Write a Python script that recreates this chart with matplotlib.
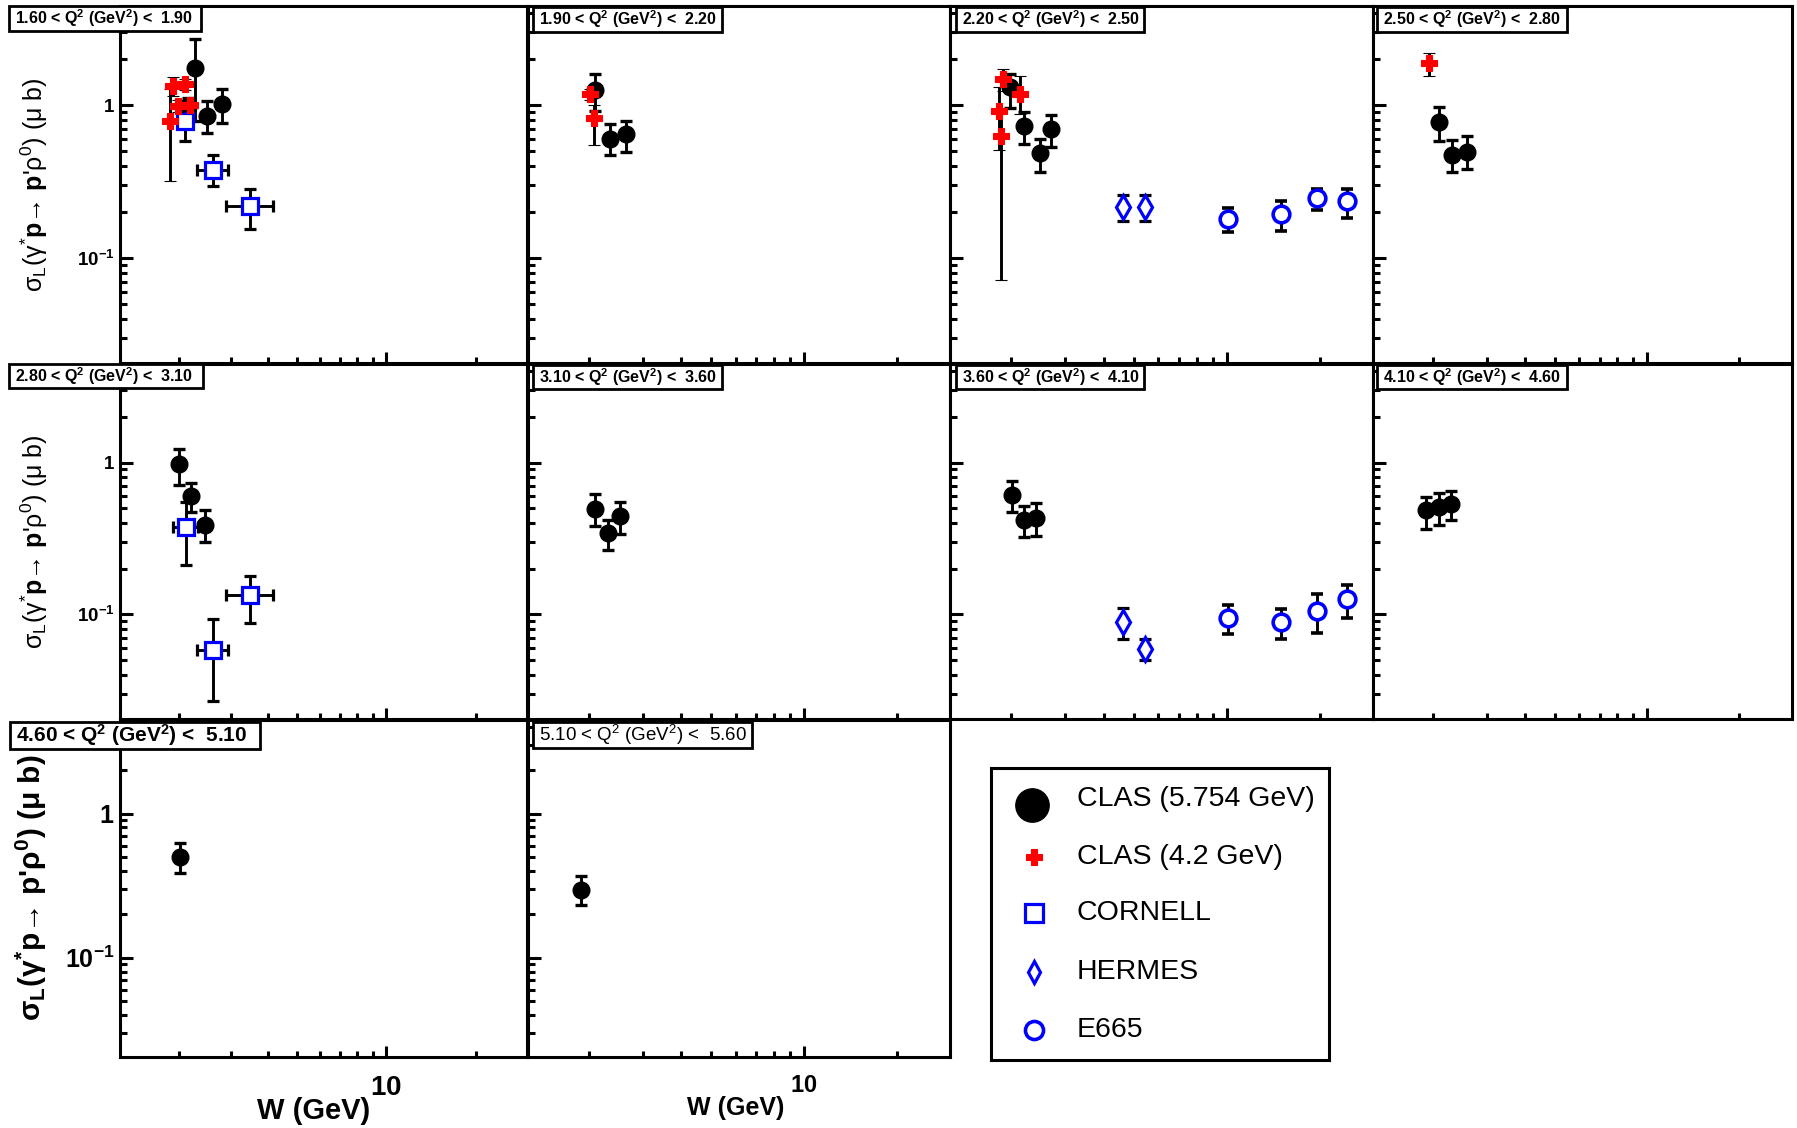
import numpy as np
import matplotlib
matplotlib.use("Agg")
import matplotlib.pyplot as plt
from matplotlib.ticker import FixedLocator, FuncFormatter, NullFormatter
from matplotlib.patches import Rectangle

plt.rcParams.update({
    "font.family": ["Liberation Sans", "DejaVu Sans"],
    "mathtext.fontset": "custom",
    "mathtext.rm": "Liberation Sans",
    "mathtext.it": "Liberation Sans",
    "mathtext.bf": "Liberation Sans:bold",
    "mathtext.default": "regular",
})

# ---------------------------------------------------------------- data
# Q^2 bins (GeV^2), one panel per bin
q2_low = ["1.60", "1.90", "2.20", "2.50", "2.80", "3.10", "3.60", "4.10", "4.60", "5.10"]
q2_high = ["1.90", "2.20", "2.50", "2.80", "3.10", "3.60", "4.10", "4.60", "5.10", "5.60"]

# CLAS, 5.754 GeV beam
clas57_bin = [0, 0, 0, 0, 1, 1, 1, 2, 2, 2, 2, 3, 3, 3, 4, 4, 4, 5, 5, 5, 6, 6, 6, 7, 7, 7, 8, 9]
clas57_w = [2.27, 2.15, 2.49, 2.79, 2.09, 2.34, 2.65, 1.99, 2.21, 2.48, 2.70, 2.09, 2.31, 2.58,
            2.00, 2.21, 2.45, 2.09, 2.31, 2.52, 2.01, 2.21, 2.41, 1.90, 2.09, 2.28, 2.02, 1.89]
clas57_sig = [1.74, 0.965, 0.85, 1.01, 1.26, 0.60, 0.645, 1.32, 0.727, 0.487, 0.695, 0.776, 0.473, 0.49,
              0.975, 0.604, 0.39, 0.498, 0.343, 0.445, 0.61, 0.416, 0.434, 0.485, 0.51, 0.537, 0.497, 0.296]
clas57_elo = [0.95, 0.12, 0.19, 0.25, 0.34, 0.13, 0.155, 0.36, 0.17, 0.12, 0.165, 0.19, 0.106, 0.108,
              0.265, 0.13, 0.09, 0.116, 0.077, 0.105, 0.137, 0.093, 0.107, 0.118, 0.124, 0.121, 0.111, 0.064]
clas57_ehi = [0.95, 0.14, 0.22, 0.26, 0.34, 0.15, 0.145, 0.27, 0.17, 0.11, 0.165, 0.20, 0.115, 0.135,
              0.255, 0.133, 0.095, 0.118, 0.077, 0.106, 0.146, 0.102, 0.108, 0.11, 0.122, 0.115, 0.129, 0.075]

# CLAS, 4.2 GeV beam
clas42_bin = [0, 0, 0, 0, 0, 1, 1, 2, 2, 2, 2, 3]
clas42_w = [1.87, 1.92, 2.11, 1.99, 2.18, 2.02, 2.08, 1.89, 2.14, 1.83, 1.86, 1.93]
clas42_sig = [0.79, 1.33, 1.37, 0.99, 1.00, 1.18, 0.82, 1.48, 1.18, 0.91, 0.625, 1.88]
clas42_elo = [0.47, 0.18, 0.12, 0.09, 0.09, 0.10, 0.27, 0.25, 0.30, 0.405, 0.553, 0.33]
clas42_ehi = [0.48, 0.19, 0.12, 0.09, 0.09, 0.10, 0.18, 0.25, 0.36, 0.41, 0.30, 0.31]

# Cornell
cornell_bin = [0, 0, 0, 4, 4, 4]
cornell_w = [2.11, 2.62, 3.49, 2.12, 2.62, 3.49]
cornell_wlo = [0.0, 0.32, 0.59, 0.21, 0.31, 0.59]
cornell_whi = [0.0, 0.32, 0.68, 0.21, 0.32, 0.68]
cornell_sig = [0.79, 0.376, 0.22, 0.376, 0.0585, 0.134]
cornell_elo = [0.21, 0.08, 0.066, 0.165, 0.0314, 0.046]
cornell_ehi = [0.13, 0.096, 0.064, 0.174, 0.0345, 0.045]

# HERMES
hermes_bin = [2, 2, 6, 6]
hermes_w = [4.62, 5.42, 4.62, 5.42]
hermes_sig = [0.214, 0.214, 0.0892, 0.0589]
hermes_elo = [0.04, 0.04, 0.0204, 0.009]
hermes_ehi = [0.043, 0.043, 0.0208, 0.0097]

# E665
e665_bin = [2, 2, 2, 2, 6, 6, 6, 6]
e665_w = [10.1, 15.0, 19.6, 24.6, 10.1, 15.0, 19.6, 24.6]
e665_sig = [0.179, 0.193, 0.245, 0.235, 0.0941, 0.0892, 0.105, 0.126]
e665_elo = [0.031, 0.042, 0.040, 0.053, 0.020, 0.0204, 0.0295, 0.031]
e665_ehi = [0.032, 0.041, 0.038, 0.048, 0.021, 0.0198, 0.031, 0.031]

legend_labels = ["CLAS (5.754 GeV)", "CLAS (4.2 GeV)", "CORNELL", "HERMES", "E665"]

# ---------------------------------------------------------------- layout
W_PX, H_PX = 1797, 1128
fig = plt.figure(figsize=(W_PX / 100, H_PX / 100), dpi=100)


def frac_rect(x0, y0, x1, y1):
    return [x0 / W_PX, 1 - y1 / H_PX, (x1 - x0) / W_PX, (y1 - y0) / H_PX]


def fx(x):
    return x / W_PX


def fy(y):
    return 1 - y / H_PX


frames = [(120, 6, 527, 363), (528, 6, 950, 363), (950, 6, 1373, 363), (1373, 6, 1792, 363),
          (120, 364, 527, 719), (528, 364, 950, 719), (950, 364, 1373, 719), (1373, 364, 1792, 719),
          (120, 720, 527, 1057), (528, 720, 950, 1057)]

boxes = [(9, 6, 201, 31), (533, 7, 722, 32), (956, 7, 1144, 32), (1377, 7, 1567, 32),
         (9, 364, 203, 388), (533, 365, 722, 389), (956, 365, 1144, 389), (1377, 365, 1567, 389),
         (10, 722, 260, 749), (533, 722, 752, 748)]

ERR = dict(ecolor="black", elinewidth=2.1, capsize=4.3, capthick=2.4, linestyle="none")


def sel(bins, i, *cols):
    m = np.asarray(bins) == i
    return [np.asarray(c)[m] for c in cols]


def ytick_fmt(v, _):
    if abs(v - 1) < 1e-9:
        return r"$\mathbf{1}$"
    return r"$\mathbf{10^{-1}}$"


axes = []
for i, fr in enumerate(frames):
    ax = fig.add_axes(frac_rect(*fr))
    axes.append(ax)
    ax.set_xscale("log")
    ax.set_yscale("log")

    # CLAS 5.754 GeV
    w, s, lo, hi = sel(clas57_bin, i, clas57_w, clas57_sig, clas57_elo, clas57_ehi)
    if len(w):
        ax.errorbar(w, s, yerr=[lo, hi], marker="o", ms=12, mfc="black", mec="black",
                    zorder=3, **ERR)
    # Cornell
    w, wl, wh, s, lo, hi = sel(cornell_bin, i, cornell_w, cornell_wlo, cornell_whi,
                               cornell_sig, cornell_elo, cornell_ehi)
    if len(w):
        ax.errorbar(w, s, xerr=[wl, wh], yerr=[lo, hi], marker="s", ms=12, mfc="white",
                    mec="#0000ff", mew=2.3, zorder=4, **ERR)
    # HERMES
    w, s, lo, hi = sel(hermes_bin, i, hermes_w, hermes_sig, hermes_elo, hermes_ehi)
    if len(w):
        ax.errorbar(w, s, yerr=[lo, hi], marker="d", ms=12, mfc="white",
                    mec="#0000ff", mew=2.3, zorder=4, **ERR)
    # E665
    w, s, lo, hi = sel(e665_bin, i, e665_w, e665_sig, e665_elo, e665_ehi)
    if len(w):
        ax.errorbar(w, s, yerr=[lo, hi], marker="o", ms=12, mfc="white",
                    mec="#0000ff", mew=2.6, zorder=4, **ERR)
    # CLAS 4.2 GeV
    w, s, lo, hi = sel(clas42_bin, i, clas42_w, clas42_sig, clas42_elo, clas42_ehi)
    if len(w):
        ax.errorbar(w, s, yerr=[lo, hi], marker="P", ms=11.5, mfc="#ff0000", mec="#ff0000",
                    mew=0.8, zorder=5, **ERR)

    ax.set_xlim(1.27, 29.8)
    ax.set_ylim(0.0205, 4.45)
    ax.xaxis.set_major_locator(FixedLocator([10]))
    ax.xaxis.set_minor_locator(FixedLocator([2, 3, 4, 5, 6, 7, 8, 9, 20]))
    ax.yaxis.set_major_locator(FixedLocator([0.1, 1]))
    ax.yaxis.set_minor_locator(FixedLocator([0.03, 0.04, 0.05, 0.06, 0.07, 0.08, 0.09,
                                             0.2, 0.3, 0.4, 0.5, 0.6, 0.7, 0.8, 0.9, 2, 3, 4]))
    ax.xaxis.set_minor_formatter(NullFormatter())
    ax.yaxis.set_minor_formatter(NullFormatter())
    ax.xaxis.set_major_formatter(FuncFormatter(lambda v, _: r"$\mathbf{10}$"))
    ax.yaxis.set_major_formatter(FuncFormatter(ytick_fmt))
    ax.tick_params(which="both", direction="in", top=False, right=False, width=2.2)
    ax.tick_params(axis="y", which="major", length=9.5)
    ax.tick_params(axis="y", which="minor", length=5)
    ax.tick_params(axis="x", which="major", length=8)
    ax.tick_params(axis="x", which="minor", length=4)
    for sp in ax.spines.values():
        sp.set_linewidth(2.2)

    col0 = i in (0, 4, 8)
    bottom = i in (8, 9)
    ax.tick_params(axis="y", labelleft=col0, pad=4, labelsize=18 if i == 8 else 13.5)
    ax.tick_params(axis="x", labelbottom=bottom, pad=13, labelsize=20 if i == 8 else 17)

# Q^2 bin boxes
for i, (x0, y0, x1, y1) in enumerate(boxes):
    fig.add_artist(Rectangle((fx(x0), fy(y1)), (x1 - x0) / W_PX, (y1 - y0) / H_PX,
                             transform=fig.transFigure, fc="white", ec="black", lw=2.0, zorder=5))
    txt = q2_low[i] + r" < Q$^{2}$ (GeV$^{2}$) <  " + q2_high[i]
    size = 15 if i == 8 else (13.5 if i == 9 else 11.5)
    weight = "normal" if i == 9 else "bold"
    fig.text(fx(x0 + 6), fy((y0 + y1) / 2), txt, ha="left", va="center",
             fontsize=size, fontweight=weight, zorder=6)

# y-axis titles
ylab_small = r"σ$_{L}$(γ$^{*}$$\mathbf{p}$→ $\mathbf{p}$'ρ$^{0}$) (μ b)"
ylab_big = r"σ$_{L}$(γ$^{*}$p→ p'ρ$^{0}$) (μ b)"
fig.text(fx(34), fy(184.5), ylab_small, rotation=90, ha="center", va="center", fontsize=18)
fig.text(fx(34), fy(541.5), ylab_small, rotation=90, ha="center", va="center", fontsize=18)
fig.text(fx(31), fy(888), ylab_big, rotation=90, ha="center", va="center", fontsize=21.5,
         fontweight="bold")

# x-axis titles
fig.text(fx(370), fy(1111), "W (GeV)", ha="right", va="center", fontsize=21, fontweight="bold")
fig.text(fx(784), fy(1108), "W (GeV)", ha="right", va="center", fontsize=18, fontweight="bold")

# legend
lx0, ly0, lx1, ly1 = 991, 768, 1329, 1060
lax = fig.add_axes(frac_rect(lx0, ly0, lx1, ly1))
lax.set_xlim(lx0, lx1)
lax.set_ylim(ly1, ly0)
lax.set_xticks([])
lax.set_yticks([])
for sp in lax.spines.values():
    sp.set_linewidth(2.2)
row_y = [799, 857, 913, 972, 1030]
lax.plot([1032], [row_y[0] + 6], marker="o", ms=24, mfc="black", mec="black", ls="none")
lax.plot([1034], [row_y[1]], marker="P", ms=11, mfc="#ff0000", mec="#ff0000", mew=0.8, ls="none")
lax.plot([1034], [row_y[2]], marker="s", ms=13, mfc="white", mec="#0000ff", mew=2.3, ls="none")
lax.plot([1034], [row_y[3]], marker="d", ms=11, mfc="white", mec="#0000ff", mew=2.3, ls="none")
lax.plot([1034], [row_y[4]], marker="o", ms=13, mfc="white", mec="#0000ff", mew=2.6, ls="none")
for y, lab in zip(row_y, legend_labels):
    lax.text(1077, y, lab, ha="left", va="center", fontsize=20.5)

fig.savefig("out.png", dpi=100)
